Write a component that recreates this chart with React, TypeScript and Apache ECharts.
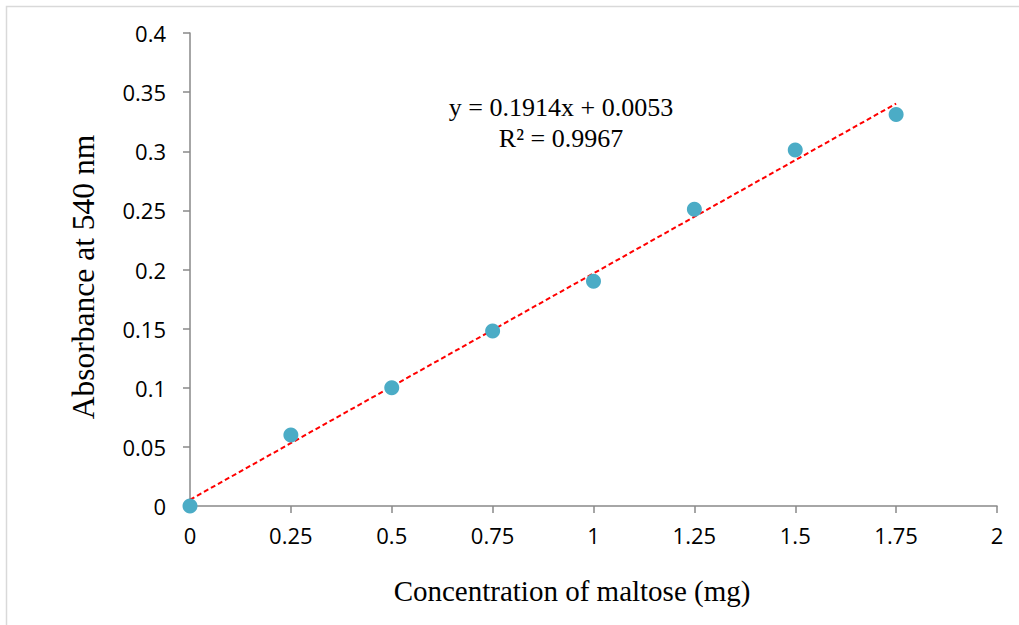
import React, { useEffect, useRef } from "react";
import * as echarts from "echarts";

const concentration = [0, 0.25, 0.5, 0.75, 1, 1.25, 1.5, 1.75];
const absorbance = [0, 0.06, 0.1, 0.148, 0.19, 0.251, 0.301, 0.331];
const trendX = [0, 1.75];
const trendY = [0.0053, 0.3403];
const equationText = "y = 0.1914x + 0.0053";
const r2Text = "R² = 0.9967";
const xTitle = "Concentration of maltose (mg)";
const yTitle = "Absorbance at 540 nm";

export default function App() {
  const ref = useRef<HTMLDivElement>(null);
  useEffect(() => {
    document.body.style.margin = "0";
    const chart = echarts.init(ref.current!, null, { renderer: "svg" });
    const axisColor = "#898989";
    const tickFont = { fontFamily: "Open Sans", fontSize: 22, color: "#000" };
    chart.setOption({
      animation: false,
      backgroundColor: "#fff",
      grid: { left: 190, right: 22, top: 33, bottom: 119, containLabel: false },
      xAxis: {
        type: "value",
        min: 0,
        max: 2,
        interval: 0.25,
        axisLine: { show: true, lineStyle: { color: axisColor, width: 1.5 } },
        axisTick: { show: true, length: 7, lineStyle: { color: axisColor, width: 1.5 } },
        splitLine: { show: false },
        axisLabel: { ...tickFont, margin: 18, formatter: (v: number) => String(v) },
      },
      yAxis: {
        type: "value",
        min: 0,
        max: 0.4,
        interval: 0.05,
        axisLine: { show: true, lineStyle: { color: axisColor, width: 1.5 } },
        axisTick: { show: true, length: 7, lineStyle: { color: axisColor, width: 1.5 } },
        splitLine: { show: false },
        axisLabel: { ...tickFont, margin: 24, formatter: (v: number) => String(Number(v.toFixed(2))) },
      },
      graphic: [
        {
          type: "rect",
          shape: { x: 6.5, y: 6.5, width: 1100, height: 700 },
          style: { fill: "none", stroke: "#d9d9d9", lineWidth: 1.5 },
          silent: true,
          z: -10,
        },
        {
          type: "text",
          x: 561,
          y: 107,
          style: { text: equationText, fontFamily: "Liberation Serif", fontSize: 26, fill: "#000", align: "center", verticalAlign: "middle" },
        },
        {
          type: "text",
          x: 561,
          y: 138,
          style: { text: r2Text, fontFamily: "Liberation Serif", fontSize: 26, fill: "#000", align: "center", verticalAlign: "middle" },
        },
        {
          type: "text",
          x: 572,
          y: 591,
          style: { text: xTitle, fontFamily: "Liberation Serif", fontSize: 29, fill: "#000", align: "center", verticalAlign: "middle" },
        },
        {
          type: "text",
          x: 83,
          y: 277,
          rotation: Math.PI / 2,
          style: { text: yTitle, fontFamily: "Liberation Serif", fontSize: 31.5, fill: "#000", align: "center", verticalAlign: "middle" },
        },
      ],
      series: [
        {
          type: "line",
          data: trendX.map((x, i) => [x, trendY[i]]),
          symbol: "none",
          lineStyle: { color: "#ff0000", width: 2, type: [5, 3] },
          z: 2,
        },
        {
          type: "scatter",
          data: concentration.map((x, i) => [x, absorbance[i]]),
          symbolSize: 15,
          itemStyle: { color: "#4bacc6", opacity: 1 },
          z: 3,
        },
      ],
    });
    return () => chart.dispose();
  }, []);
  return <div ref={ref} style={{ width: 1019, height: 625, position: "fixed", left: 0, top: 0 }} />;
}
